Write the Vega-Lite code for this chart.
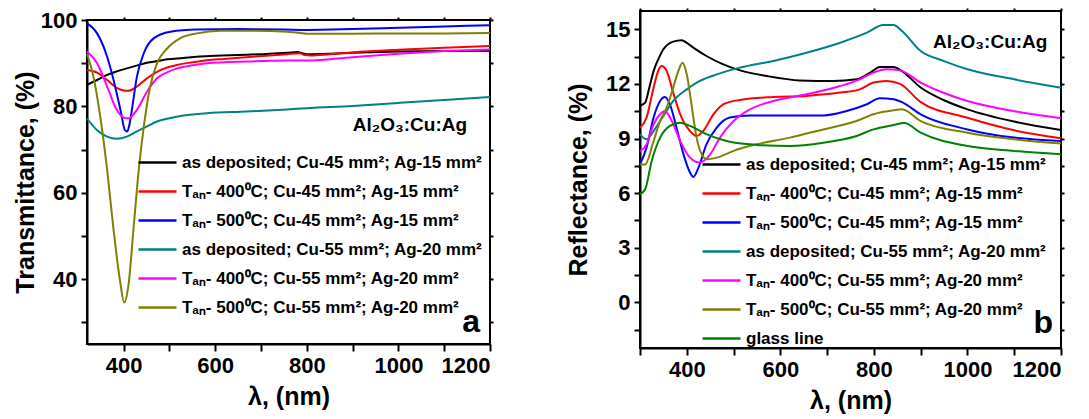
{
 "$schema": "https://vega.github.io/schema/vega-lite/v6.json",
 "padding": {"left": 12, "top": 6, "right": 5, "bottom": 5},
 "config": {
  "font": "Liberation Sans",
  "view": {"stroke": "#000", "strokeWidth": 2},
  "axis": {"grid": false, "labelFont": "Liberation Sans", "labelFontWeight": "bold", "labelFontSize": 22, "labelColor": "#000",
   "titleFont": "Liberation Sans", "titleFontWeight": "bold", "titleFontSize": 25, "titleColor": "#000",
   "domainColor": "#000", "domainWidth": 2, "tickColor": "#000", "tickWidth": 2, "tickSize": 6, "labelPadding": 4},
  "legend": {"labelFont": "Liberation Sans", "labelFontWeight": "bold", "labelFontSize": 17, "labelColor": "#000", "labelLimit": 0,
   "symbolType": "stroke", "symbolSize": 1444, "symbolStrokeWidth": 2.5, "labelOffset": 4, "padding": 0, "rowPadding": 0, "title": null}
 },
 "datasets": {
  "ta": [
   {"s":"c1","wl":320,"v":85.0},{"s":"c1","wl":340,"v":86.0},{"s":"c1","wl":364,"v":87.3},{"s":"c1","wl":385,"v":88.1},{"s":"c1","wl":407,"v":88.8},{"s":"c1","wl":430,"v":89.5},{"s":"c1","wl":451,"v":90.1},{"s":"c1","wl":475,"v":90.5},{"s":"c1","wl":495,"v":90.9},{"s":"c1","wl":530,"v":91.2},{"s":"c1","wl":560,"v":91.5},{"s":"c1","wl":600,"v":91.7},{"s":"c1","wl":650,"v":91.9},{"s":"c1","wl":700,"v":92.1},{"s":"c1","wl":757,"v":92.4},{"s":"c1","wl":780,"v":92.6},{"s":"c1","wl":790,"v":92.3},{"s":"c1","wl":800,"v":92.1},{"s":"c1","wl":850,"v":92.2},{"s":"c1","wl":900,"v":92.4},{"s":"c1","wl":1000,"v":92.7},{"s":"c1","wl":1100,"v":92.8},{"s":"c1","wl":1200,"v":92.9},
   {"s":"c2","wl":320,"v":88.4},{"s":"c2","wl":342,"v":87.8},{"s":"c2","wl":364,"v":86.1},{"s":"c2","wl":385,"v":84.3},{"s":"c2","wl":400,"v":83.7},{"s":"c2","wl":410,"v":83.6},{"s":"c2","wl":429,"v":84.6},{"s":"c2","wl":451,"v":86.5},{"s":"c2","wl":473,"v":88.0},{"s":"c2","wl":495,"v":89.0},{"s":"c2","wl":517,"v":89.6},{"s":"c2","wl":550,"v":90.2},{"s":"c2","wl":582,"v":90.7},{"s":"c2","wl":620,"v":91.0},{"s":"c2","wl":669,"v":91.4},{"s":"c2","wl":720,"v":91.8},{"s":"c2","wl":757,"v":92.1},{"s":"c2","wl":785,"v":92.3},{"s":"c2","wl":795,"v":91.9},{"s":"c2","wl":810,"v":91.8},{"s":"c2","wl":850,"v":92.1},{"s":"c2","wl":900,"v":92.5},{"s":"c2","wl":1000,"v":93.1},{"s":"c2","wl":1100,"v":93.6},{"s":"c2","wl":1200,"v":94.0},
   {"s":"c3","wl":320,"v":99.2},{"s":"c3","wl":342,"v":96.9},{"s":"c3","wl":364,"v":91.5},{"s":"c3","wl":378,"v":86.1},{"s":"c3","wl":393,"v":79.2},{"s":"c3","wl":403,"v":74.5},{"s":"c3","wl":408,"v":74.2},{"s":"c3","wl":413,"v":76.0},{"s":"c3","wl":418,"v":79.2},{"s":"c3","wl":429,"v":86.9},{"s":"c3","wl":444,"v":92.3},{"s":"c3","wl":466,"v":95.8},{"s":"c3","wl":502,"v":97.3},{"s":"c3","wl":560,"v":97.8},{"s":"c3","wl":650,"v":97.9},{"s":"c3","wl":750,"v":97.8},{"s":"c3","wl":800,"v":97.7},{"s":"c3","wl":900,"v":97.9},{"s":"c3","wl":1000,"v":98.2},{"s":"c3","wl":1100,"v":98.5},{"s":"c3","wl":1200,"v":98.8},
   {"s":"c4","wl":320,"v":77.2},{"s":"c4","wl":342,"v":74.5},{"s":"c4","wl":364,"v":73.0},{"s":"c4","wl":385,"v":72.5},{"s":"c4","wl":407,"v":73.0},{"s":"c4","wl":429,"v":74.2},{"s":"c4","wl":450,"v":75.3},{"s":"c4","wl":473,"v":76.5},{"s":"c4","wl":516,"v":77.6},{"s":"c4","wl":582,"v":78.4},{"s":"c4","wl":669,"v":78.8},{"s":"c4","wl":757,"v":79.3},{"s":"c4","wl":800,"v":79.6},{"s":"c4","wl":900,"v":80.1},{"s":"c4","wl":1000,"v":80.8},{"s":"c4","wl":1100,"v":81.5},{"s":"c4","wl":1200,"v":82.2},
   {"s":"c5","wl":320,"v":92.7},{"s":"c5","wl":342,"v":90.0},{"s":"c5","wl":364,"v":84.6},{"s":"c5","wl":385,"v":79.2},{"s":"c5","wl":400,"v":77.4},{"s":"c5","wl":410,"v":77.2},{"s":"c5","wl":429,"v":79.2},{"s":"c5","wl":451,"v":83.4},{"s":"c5","wl":473,"v":86.5},{"s":"c5","wl":495,"v":87.9},{"s":"c5","wl":517,"v":88.8},{"s":"c5","wl":550,"v":89.5},{"s":"c5","wl":582,"v":90.0},{"s":"c5","wl":669,"v":90.4},{"s":"c5","wl":757,"v":90.6},{"s":"c5","wl":800,"v":90.6},{"s":"c5","wl":900,"v":91.4},{"s":"c5","wl":1000,"v":92.2},{"s":"c5","wl":1100,"v":92.8},{"s":"c5","wl":1200,"v":93.2},
   {"s":"c6","wl":320,"v":92.2},{"s":"c6","wl":334,"v":86.9},{"s":"c6","wl":349,"v":77.6},{"s":"c6","wl":364,"v":65.3},{"s":"c6","wl":378,"v":51.4},{"s":"c6","wl":393,"v":39.0},{"s":"c6","wl":401,"v":34.6},{"s":"c6","wl":411,"v":39.0},{"s":"c6","wl":422,"v":52.2},{"s":"c6","wl":433,"v":65.3},{"s":"c6","wl":444,"v":75.3},{"s":"c6","wl":458,"v":84.6},{"s":"c6","wl":473,"v":90.0},{"s":"c6","wl":495,"v":93.4},{"s":"c6","wl":524,"v":95.8},{"s":"c6","wl":560,"v":96.9},{"s":"c6","wl":611,"v":97.5},{"s":"c6","wl":684,"v":97.5},{"s":"c6","wl":757,"v":97.3},{"s":"c6","wl":786,"v":97.0},{"s":"c6","wl":800,"v":96.8},{"s":"c6","wl":900,"v":96.8},{"s":"c6","wl":1000,"v":96.9},{"s":"c6","wl":1100,"v":96.9},{"s":"c6","wl":1200,"v":97.0}
  ],
  "rb": [
   {"s":"c1","wl":300,"v":10.8},{"s":"c1","wl":311,"v":10.97},{"s":"c1","wl":320,"v":11.8},{"s":"c1","wl":329,"v":12.7},{"s":"c1","wl":340,"v":13.4},{"s":"c1","wl":350,"v":13.9},{"s":"c1","wl":371,"v":14.32},{"s":"c1","wl":389,"v":14.4},{"s":"c1","wl":400,"v":14.25},{"s":"c1","wl":414,"v":13.99},{"s":"c1","wl":442,"v":13.53},{"s":"c1","wl":478,"v":13.07},{"s":"c1","wl":514,"v":12.74},{"s":"c1","wl":571,"v":12.43},{"s":"c1","wl":642,"v":12.19},{"s":"c1","wl":713,"v":12.16},{"s":"c1","wl":763,"v":12.25},{"s":"c1","wl":792,"v":12.62},{"s":"c1","wl":813,"v":12.93},{"s":"c1","wl":842,"v":12.93},{"s":"c1","wl":860,"v":12.7},{"s":"c1","wl":900,"v":11.8},{"s":"c1","wl":950,"v":11.1},{"s":"c1","wl":1000,"v":10.6},{"s":"c1","wl":1100,"v":9.93},{"s":"c1","wl":1200,"v":9.47},
   {"s":"c2","wl":300,"v":9.6},{"s":"c2","wl":314,"v":10.15},{"s":"c2","wl":329,"v":11.79},{"s":"c2","wl":339,"v":12.71},{"s":"c2","wl":346,"v":12.98},{"s":"c2","wl":357,"v":12.71},{"s":"c2","wl":371,"v":11.52},{"s":"c2","wl":386,"v":10.33},{"s":"c2","wl":407,"v":9.41},{"s":"c2","wl":421,"v":9.14},{"s":"c2","wl":435,"v":9.41},{"s":"c2","wl":457,"v":10.33},{"s":"c2","wl":478,"v":10.88},{"s":"c2","wl":514,"v":11.12},{"s":"c2","wl":585,"v":11.28},{"s":"c2","wl":656,"v":11.34},{"s":"c2","wl":728,"v":11.52},{"s":"c2","wl":770,"v":11.7},{"s":"c2","wl":799,"v":12.07},{"s":"c2","wl":827,"v":12.16},{"s":"c2","wl":856,"v":12.0},{"s":"c2","wl":900,"v":11.0},{"s":"c2","wl":1000,"v":10.14},{"s":"c2","wl":1100,"v":9.45},{"s":"c2","wl":1200,"v":9.01},
   {"s":"c3","wl":300,"v":7.58},{"s":"c3","wl":314,"v":8.5},{"s":"c3","wl":329,"v":10.15},{"s":"c3","wl":343,"v":11.06},{"s":"c3","wl":353,"v":11.28},{"s":"c3","wl":364,"v":10.88},{"s":"c3","wl":378,"v":9.6},{"s":"c3","wl":393,"v":8.13},{"s":"c3","wl":407,"v":7.13},{"s":"c3","wl":414,"v":6.89},{"s":"c3","wl":425,"v":7.4},{"s":"c3","wl":442,"v":8.68},{"s":"c3","wl":464,"v":9.6},{"s":"c3","wl":492,"v":10.15},{"s":"c3","wl":535,"v":10.27},{"s":"c3","wl":621,"v":10.27},{"s":"c3","wl":692,"v":10.27},{"s":"c3","wl":742,"v":10.51},{"s":"c3","wl":785,"v":10.88},{"s":"c3","wl":813,"v":11.21},{"s":"c3","wl":842,"v":11.15},{"s":"c3","wl":860,"v":11.0},{"s":"c3","wl":900,"v":10.33},{"s":"c3","wl":1000,"v":9.5},{"s":"c3","wl":1100,"v":9.05},{"s":"c3","wl":1200,"v":8.87},
   {"s":"c4","wl":300,"v":9.23},{"s":"c4","wl":314,"v":8.96},{"s":"c4","wl":329,"v":9.41},{"s":"c4","wl":350,"v":10.24},{"s":"c4","wl":371,"v":11.06},{"s":"c4","wl":400,"v":11.7},{"s":"c4","wl":428,"v":12.16},{"s":"c4","wl":464,"v":12.52},{"s":"c4","wl":514,"v":12.89},{"s":"c4","wl":585,"v":13.26},{"s":"c4","wl":656,"v":13.71},{"s":"c4","wl":728,"v":14.26},{"s":"c4","wl":785,"v":14.81},{"s":"c4","wl":820,"v":15.23},{"s":"c4","wl":842,"v":15.23},{"s":"c4","wl":860,"v":14.9},{"s":"c4","wl":900,"v":13.8},{"s":"c4","wl":950,"v":13.25},{"s":"c4","wl":1000,"v":12.8},{"s":"c4","wl":1100,"v":12.25},{"s":"c4","wl":1200,"v":11.79},
   {"s":"c5","wl":300,"v":8.3},{"s":"c5","wl":314,"v":8.68},{"s":"c5","wl":329,"v":9.78},{"s":"c5","wl":343,"v":10.33},{"s":"c5","wl":353,"v":10.51},{"s":"c5","wl":368,"v":9.96},{"s":"c5","wl":386,"v":8.86},{"s":"c5","wl":407,"v":7.95},{"s":"c5","wl":428,"v":7.68},{"s":"c5","wl":450,"v":8.13},{"s":"c5","wl":471,"v":9.05},{"s":"c5","wl":500,"v":9.96},{"s":"c5","wl":535,"v":10.6},{"s":"c5","wl":585,"v":11.06},{"s":"c5","wl":656,"v":11.43},{"s":"c5","wl":728,"v":11.88},{"s":"c5","wl":770,"v":12.25},{"s":"c5","wl":799,"v":12.62},{"s":"c5","wl":827,"v":12.8},{"s":"c5","wl":856,"v":12.74},{"s":"c5","wl":900,"v":12.07},{"s":"c5","wl":950,"v":11.5},{"s":"c5","wl":1000,"v":11.06},{"s":"c5","wl":1100,"v":10.5},{"s":"c5","wl":1200,"v":10.11},
   {"s":"c6","wl":300,"v":7.58},{"s":"c6","wl":311,"v":7.58},{"s":"c6","wl":329,"v":8.86},{"s":"c6","wl":343,"v":9.96},{"s":"c6","wl":357,"v":10.7},{"s":"c6","wl":371,"v":11.79},{"s":"c6","wl":382,"v":12.71},{"s":"c6","wl":391,"v":13.16},{"s":"c6","wl":400,"v":12.52},{"s":"c6","wl":411,"v":10.7},{"s":"c6","wl":421,"v":9.05},{"s":"c6","wl":432,"v":8.13},{"s":"c6","wl":443,"v":7.86},{"s":"c6","wl":464,"v":7.95},{"s":"c6","wl":500,"v":8.32},{"s":"c6","wl":549,"v":8.68},{"s":"c6","wl":621,"v":9.05},{"s":"c6","wl":692,"v":9.5},{"s":"c6","wl":763,"v":9.96},{"s":"c6","wl":799,"v":10.33},{"s":"c6","wl":842,"v":10.55},{"s":"c6","wl":860,"v":10.6},{"s":"c6","wl":900,"v":9.96},{"s":"c6","wl":1000,"v":9.32},{"s":"c6","wl":1100,"v":8.96},{"s":"c6","wl":1200,"v":8.72},
   {"s":"c7","wl":300,"v":5.94},{"s":"c7","wl":311,"v":6.21},{"s":"c7","wl":325,"v":7.77},{"s":"c7","wl":343,"v":9.05},{"s":"c7","wl":364,"v":9.69},{"s":"c7","wl":386,"v":9.87},{"s":"c7","wl":407,"v":9.69},{"s":"c7","wl":443,"v":9.23},{"s":"c7","wl":485,"v":8.86},{"s":"c7","wl":549,"v":8.65},{"s":"c7","wl":621,"v":8.59},{"s":"c7","wl":692,"v":8.77},{"s":"c7","wl":763,"v":9.14},{"s":"c7","wl":799,"v":9.5},{"s":"c7","wl":842,"v":9.74},{"s":"c7","wl":865,"v":9.85},{"s":"c7","wl":900,"v":9.32},{"s":"c7","wl":1000,"v":8.59},{"s":"c7","wl":1100,"v":8.32},{"s":"c7","wl":1200,"v":8.13}
  ]
 },
 "spacing": 70,
 "resolve": {"scale": {"color": "independent"}, "legend": {"color": "independent"}},
 "hconcat": [
  {
   "spacing": -4,
   "vconcat": [
    {"width": 403, "height": 1, "data": {"values": []}, "mark": {"type": "point", "opacity": 0}, "view": {"stroke": null}},
    {
     "width": 403, "height": 324,
     "encoding": {
      "x": {"field": "wl", "type": "quantitative", "scale": {"domain": [320, 1200], "nice": false, "zero": false},
       "axis": {"title": "λ, (nm)", "values": [400, 500, 600, 700, 800, 900, 1000, 1100, 1200], "labelExpr": "datum.value % 200 == 0 ? '' + datum.value : ''", "tickSize": 7, "titlePadding": 8}},
      "y": {"field": "v", "type": "quantitative", "scale": {"domain": [25, 100], "nice": false, "zero": false},
       "axis": {"title": "Transmittance, (%)", "values": [30, 40, 50, 60, 70, 80, 90, 100], "labelExpr": "datum.value % 20 == 0 ? '' + datum.value : ''", "titlePadding": 2}}
     },
     "resolve": {"axis": {"x": "independent", "y": "independent"}},
     "layer": [
      {
       "data": {"name": "ta"},
       "mark": {"type": "line", "strokeWidth": 2, "interpolate": "monotone"},
       "encoding": {
        "color": {"field": "s", "type": "nominal",
         "scale": {"domain": ["c1", "c2", "c3", "c4", "c5", "c6"], "range": ["#000000", "#ff0000", "#0000ff", "#008080", "#ff00ff", "#808000"]},
         "legend": {"orient": "none", "legendX": 50, "legendY": 131,
          "labelExpr": "datum.label == 'c1' ? 'as deposited; Cu-45 mm²; Ag-15 mm²' : datum.label == 'c2' ? 'Tₐₙ- 400⁰C; Cu-45 mm²; Ag-15 mm²' : datum.label == 'c3' ? 'Tₐₙ- 500⁰C; Cu-45 mm²; Ag-15 mm²' : datum.label == 'c4' ? 'as deposited; Cu-55 mm²; Ag-20 mm²' : datum.label == 'c5' ? 'Tₐₙ- 400⁰C; Cu-55 mm²; Ag-20 mm²' : 'Tₐₙ- 500⁰C; Cu-55 mm²; Ag-20 mm²'"}}
       }
      },
      {
       "data": {"values": [{"wl": 1150, "v": 74.4, "t": "Al₂O₃:Cu:Ag"}]},
       "mark": {"type": "text", "align": "right", "baseline": "alphabetic", "fontSize": 19, "fontWeight": "bold", "font": "Liberation Sans", "color": "#000"},
       "encoding": {"x": {"field": "wl", "type": "quantitative", "axis": null}, "y": {"field": "v", "type": "quantitative", "axis": null}, "text": {"field": "t"}}
      },
      {
       "data": {"values": [{"wl": 1178, "v": 27.8, "t": "a"}]},
       "mark": {"type": "text", "align": "right", "baseline": "alphabetic", "fontSize": 32, "fontWeight": "bold", "font": "Liberation Sans", "color": "#000"},
       "encoding": {
        "x": {"field": "wl", "type": "quantitative", "axis": {"orient": "top", "title": null, "labels": false, "domain": false, "tickSize": 3, "values": [400, 500, 600, 700, 800, 900, 1000, 1100, 1200]}},
        "y": {"field": "v", "type": "quantitative", "axis": {"orient": "right", "title": null, "labels": false, "domain": false, "tickSize": 3, "values": [30, 40, 50, 60, 70, 80, 90, 100]}},
        "text": {"field": "t"}}
      }
     ]
    }
   ]
  },
  {
   "width": 421, "height": 337,
   "encoding": {
    "x": {"field": "wl", "type": "quantitative", "scale": {"domain": [300, 1200], "nice": false, "zero": false},
     "axis": {"title": "λ, (nm)", "values": [300, 400, 500, 600, 700, 800, 900, 1000, 1100, 1200], "labelExpr": "datum.value % 200 == 0 ? '' + datum.value : ''", "tickSize": 7, "titlePadding": 8}},
    "y": {"field": "v", "type": "quantitative", "scale": {"domain": [-2.5, 16], "nice": false, "zero": false},
     "axis": {"title": "Reflectance, (%)", "values": [-1.5, 0, 1.5, 3, 4.5, 6, 7.5, 9, 10.5, 12, 13.5, 15], "labelExpr": "datum.value % 3 == 0 ? '' + datum.value : ''", "titlePadding": 14}}
   },
   "resolve": {"axis": {"x": "independent", "y": "independent"}},
   "layer": [
    {
     "data": {"name": "rb"},
     "mark": {"type": "line", "strokeWidth": 2, "interpolate": "monotone"},
     "encoding": {
      "color": {"field": "s", "type": "nominal",
       "scale": {"domain": ["c1", "c2", "c3", "c4", "c5", "c6", "c7"], "range": ["#000000", "#ff0000", "#0000ff", "#008080", "#ff00ff", "#808000", "#008000"]},
       "legend": {"orient": "none", "legendX": 61, "legendY": 133,
        "labelExpr": "datum.label == 'c1' ? 'as deposited; Cu-45 mm²; Ag-15 mm²' : datum.label == 'c2' ? 'Tₐₙ- 400⁰C; Cu-45 mm²; Ag-15 mm²' : datum.label == 'c3' ? 'Tₐₙ- 500⁰C; Cu-45 mm²; Ag-15 mm²' : datum.label == 'c4' ? 'as deposited; Cu-55 mm²; Ag-20 mm²' : datum.label == 'c5' ? 'Tₐₙ- 400⁰C; Cu-55 mm²; Ag-20 mm²' : datum.label == 'c6' ? 'Tₐₙ- 500⁰C; Cu-55 mm²; Ag-20 mm²' : 'glass  line'"}}
     }
    },
    {
     "data": {"values": [{"wl": 1171, "v": 13.99, "t": "Al₂O₃:Cu:Ag"}]},
     "mark": {"type": "text", "align": "right", "baseline": "alphabetic", "fontSize": 19, "fontWeight": "bold", "font": "Liberation Sans", "color": "#000"},
     "encoding": {"x": {"field": "wl", "type": "quantitative", "axis": null}, "y": {"field": "v", "type": "quantitative", "axis": null}, "text": {"field": "t"}}
    },
    {
     "data": {"values": [{"wl": 1183, "v": -1.66, "t": "b"}]},
     "mark": {"type": "text", "align": "right", "baseline": "alphabetic", "fontSize": 32, "fontWeight": "bold", "font": "Liberation Sans", "color": "#000"},
     "encoding": {
      "x": {"field": "wl", "type": "quantitative", "axis": {"orient": "top", "title": null, "labels": false, "domain": false, "tickSize": 3, "values": [300, 400, 500, 600, 700, 800, 900, 1000, 1100, 1200]}},
      "y": {"field": "v", "type": "quantitative", "axis": {"orient": "right", "title": null, "labels": false, "domain": false, "tickSize": 3, "values": [-1.5, 0, 1.5, 3, 4.5, 6, 7.5, 9, 10.5, 12, 13.5, 15]}},
      "text": {"field": "t"}}
    }
   ]
  }
 ]
}
